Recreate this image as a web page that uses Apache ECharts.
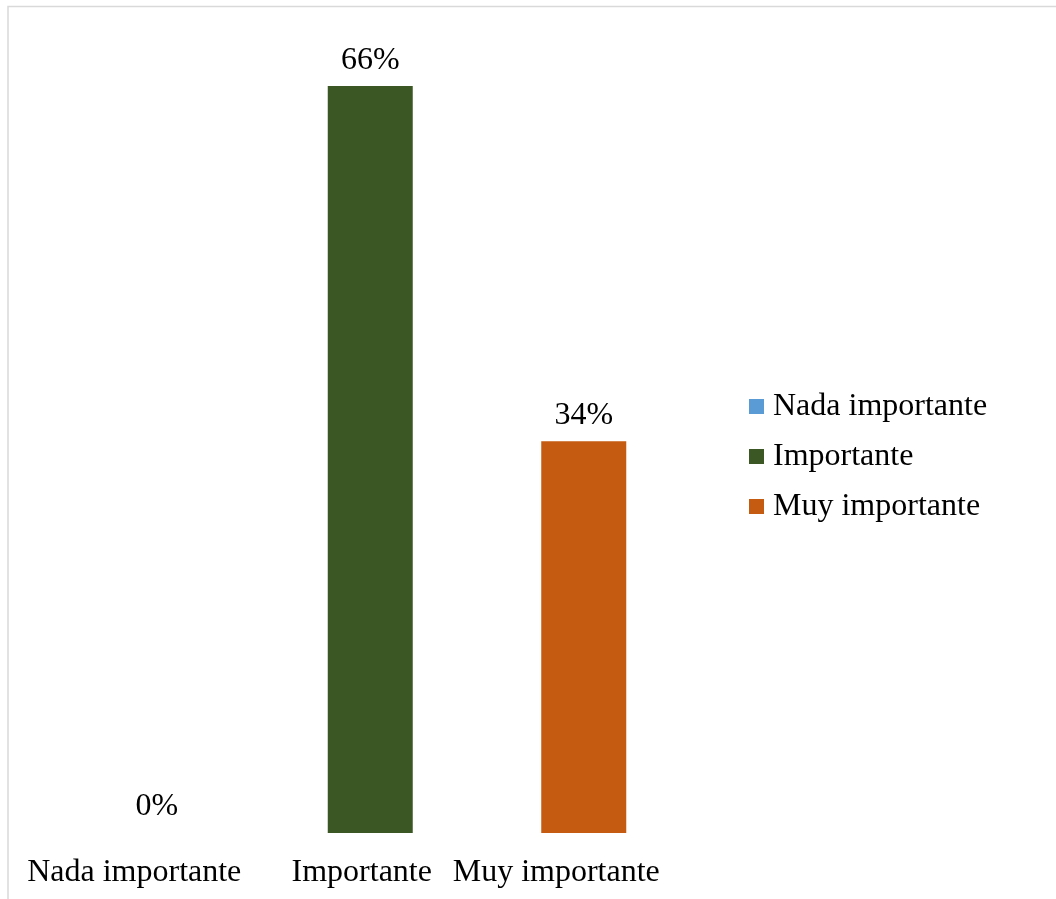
<!DOCTYPE html>
<html>
<head>
<meta charset="utf-8">
<script src="https://cdn.jsdelivr.net/npm/echarts@6/dist/echarts.min.js"></script>
<style>
html,body{margin:0;padding:0;background:#fff;}
#main{width:1056px;height:899px;}
</style>
</head>
<body>
<div id="main"></div>
<script>
const categories = ['Nada importante', 'Importante', 'Muy importante'];
const seriesNames = ['Nada importante', 'Importante', 'Muy importante'];
const values = [0, 65.6, 34.4];
const labelTexts = ['0%', '66%', '34%'];

const colors = ['#5b9bd5', '#3b5824', '#c55a11'];
const labelShift = [22.5, 8.5, 27.5];
const FONT = '"Liberation Serif", "Times New Roman", serif';

const chart = echarts.init(document.getElementById('main'));
const series = seriesNames.map((name, i) => ({
  name: name,
  type: 'bar',
  stack: 'total',
  barWidth: 85,
  itemStyle: { color: colors[i] },
  label: {
    show: true,
    position: 'top',
    distance: 10,
    fontFamily: FONT,
    fontSize: 32,
    color: '#000',
    formatter: () => labelTexts[i]
  },
  data: categories.map((c, j) => (j === i ? values[i] : null))
}));

chart.setOption({
  animation: false,
  backgroundColor: '#fff',
  graphic: [{
    type: 'rect',
    shape: { x: 8, y: 6.5, width: 1200, height: 1000 },
    style: { fill: 'none', stroke: '#d9d9d9', lineWidth: 1.5 },
    silent: true
  }],
  legend: {
    orient: 'vertical',
    left: 744,
    top: 384,
    itemWidth: 15,
    itemHeight: 15,
    itemGap: 15,
    icon: 'rect',
    textStyle: { fontFamily: FONT, fontSize: 32, color: '#000', lineHeight: 35, padding: [0, 0, 0, 4] },
    data: seriesNames
  },
  grid: { left: 50, top: 36, width: 640.5, bottom: 66, containLabel: false },
  xAxis: {
    type: 'category',
    data: categories.map((c, i) => ({ value: c, textStyle: { padding: [0, 2 * labelShift[i], 0, 0] } })),
    axisLine: { show: false },
    axisTick: { show: false },
    axisLabel: {
      interval: 0,
      margin: 22,
      fontFamily: FONT,
      fontSize: 32,
      lineHeight: 35,
      color: '#000'
    }
  },
  yAxis: {
    type: 'value',
    min: 0,
    max: 70,
    show: false,
    splitLine: { show: false }
  },
  series: series
});
</script>
</body>
</html>
